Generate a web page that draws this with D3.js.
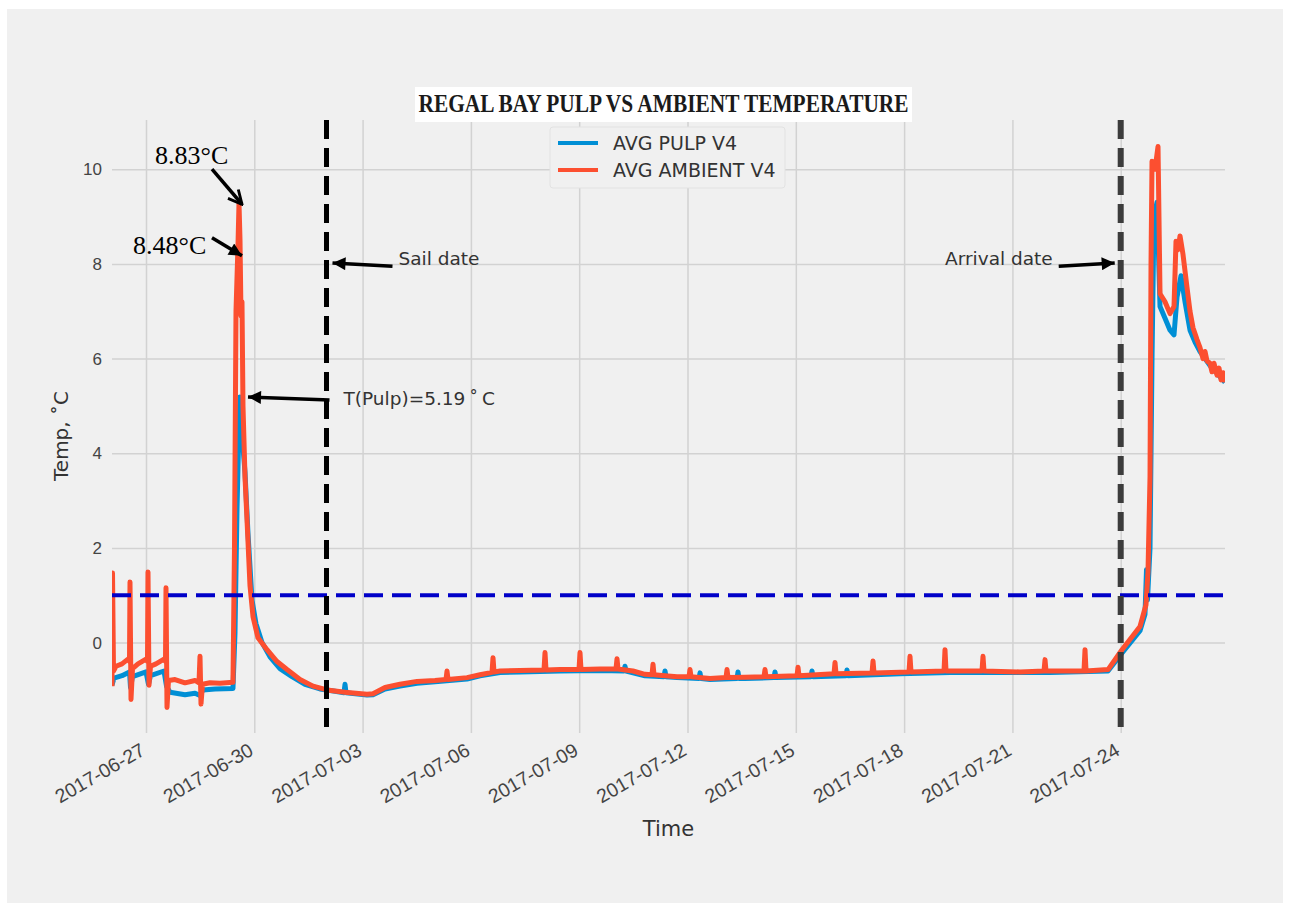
<!DOCTYPE html>
<html>
<head>
<meta charset="utf-8">
<script src="https://cdn.jsdelivr.net/npm/d3@7"></script>
<style>
  body { margin: 0; background: #fff; }
  svg { display: block; font-family: "DejaVu Sans", sans-serif; }
</style>
</head>
<body>
<div id="chart"></div>
<script>
// chart values
const title = "REGAL BAY PULP VS AMBIENT TEMPERATURE";
const seriesNames = ["AVG PULP V4", "AVG AMBIENT V4"];
const xTickLabels = ["2017-06-27", "2017-06-30", "2017-07-03", "2017-07-06", "2017-07-09",
  "2017-07-12", "2017-07-15", "2017-07-18", "2017-07-21", "2017-07-24"];
const yTicks = [0, 2, 4, 6, 8, 10];
const yLimits = [-1.91, 11.04];
const sailDate = "2017-07-02 00:00";
const arrivalDate = "2017-07-24 00:00";
const thresholdTemp = 1.0;

// AVG AMBIENT V4 (time, degC)
const ambient = [
  ["2017-06-26 01:24", -0.92], ["2017-06-26 01:44", 1.47], ["2017-06-26 02:24", -0.6],
  ["2017-06-26 04:04", -0.5], ["2017-06-26 08:03", -0.45], ["2017-06-26 12:02", -0.35],
  ["2017-06-26 13:02", -0.4], ["2017-06-26 13:22", 1.28], ["2017-06-26 14:02", -1.2],
  ["2017-06-26 15:02", -0.55], ["2017-06-26 18:41", -0.45], ["2017-06-27 00:00", -0.35],
  ["2017-06-27 01:00", -0.4], ["2017-06-27 01:20", 1.49], ["2017-06-27 02:00", -0.9],
  ["2017-06-27 03:00", -0.5], ["2017-06-27 06:39", -0.45], ["2017-06-27 11:58", -0.35],
  ["2017-06-27 12:58", -0.4], ["2017-06-27 13:18", 1.16], ["2017-06-27 13:58", -1.37],
  ["2017-06-27 14:58", -0.8], ["2017-06-27 19:17", -0.78], ["2017-06-28 01:56", -0.85],
  ["2017-06-28 08:35", -0.8], ["2017-06-28 11:14", -0.85], ["2017-06-28 11:54", -0.29],
  ["2017-06-28 12:34", -1.3], ["2017-06-28 13:34", -0.88], ["2017-06-28 18:33", -0.85],
  ["2017-06-29 01:12", -0.86], ["2017-06-29 09:50", -0.84], ["2017-06-29 10:50", 2.0],
  ["2017-06-29 11:50", 7.0], ["2017-06-29 13:10", 8.4], ["2017-06-29 13:50", 9.28],
  ["2017-06-29 14:30", 8.5], ["2017-06-29 15:10", 6.9], ["2017-06-29 15:49", 7.2],
  ["2017-06-29 16:29", 5.0], ["2017-06-29 17:49", 3.5], ["2017-06-29 19:09", 2.6],
  ["2017-06-29 21:09", 1.2], ["2017-06-29 23:08", 0.55], ["2017-06-30 02:28", 0.1],
  ["2017-06-30 08:27", -0.15], ["2017-06-30 15:06", -0.4], ["2017-06-30 21:45", -0.57],
  ["2017-07-01 06:23", -0.78], ["2017-07-01 15:02", -0.92], ["2017-07-02 00:20", -1.0],
  ["2017-07-02 12:18", -1.05], ["2017-07-03 02:56", -1.09], ["2017-07-03 06:55", -1.08],
  ["2017-07-03 14:54", -0.95], ["2017-07-04 00:52", -0.88], ["2017-07-04 12:10", -0.82],
  ["2017-07-05 00:08", -0.8], ["2017-07-05 07:27", -0.78], ["2017-07-05 08:07", -0.6],
  ["2017-07-05 08:47", -0.78], ["2017-07-05 21:25", -0.74], ["2017-07-06 06:03", -0.68],
  ["2017-07-06 14:02", -0.63], ["2017-07-06 14:42", -0.32], ["2017-07-06 15:22", -0.62],
  ["2017-07-06 19:21", -0.6], ["2017-07-07 08:39", -0.59], ["2017-07-08 00:36", -0.58],
  ["2017-07-08 01:16", -0.21], ["2017-07-08 01:56", -0.58], ["2017-07-08 11:14", -0.57],
  ["2017-07-08 23:52", -0.57], ["2017-07-09 00:32", -0.21], ["2017-07-09 01:12", -0.57],
  ["2017-07-09 13:50", -0.56], ["2017-07-10 00:28", -0.56], ["2017-07-10 01:08", -0.34],
  ["2017-07-10 01:48", -0.56], ["2017-07-10 11:46", -0.6], ["2017-07-10 19:45", -0.67],
  ["2017-07-11 00:24", -0.68], ["2017-07-11 01:04", -0.46], ["2017-07-11 01:44", -0.68],
  ["2017-07-11 09:03", -0.7], ["2017-07-11 17:01", -0.72], ["2017-07-12 01:00", -0.72],
  ["2017-07-12 01:40", -0.57], ["2017-07-12 02:20", -0.72], ["2017-07-12 14:58", -0.76],
  ["2017-07-13 01:36", -0.74], ["2017-07-13 02:16", -0.57], ["2017-07-13 02:56", -0.74],
  ["2017-07-13 14:14", -0.73], ["2017-07-14 02:52", -0.72], ["2017-07-14 03:31", -0.57],
  ["2017-07-14 04:11", -0.72], ["2017-07-15 00:48", -0.7], ["2017-07-15 01:28", -0.52],
  ["2017-07-15 02:08", -0.7], ["2017-07-16 01:24", -0.66], ["2017-07-16 02:04", -0.42],
  ["2017-07-16 02:44", -0.66], ["2017-07-17 02:40", -0.64], ["2017-07-17 03:20", -0.39],
  ["2017-07-17 04:00", -0.64], ["2017-07-18 03:15", -0.62], ["2017-07-18 03:55", -0.29],
  ["2017-07-18 04:35", -0.62], ["2017-07-19 02:32", -0.6], ["2017-07-19 03:11", -0.15],
  ["2017-07-19 03:51", -0.6], ["2017-07-20 03:47", -0.6], ["2017-07-20 04:27", -0.29],
  ["2017-07-20 05:07", -0.6], ["2017-07-21 05:03", -0.62], ["2017-07-21 21:01", -0.6],
  ["2017-07-21 21:41", -0.36], ["2017-07-21 22:20", -0.6], ["2017-07-22 23:36", -0.6],
  ["2017-07-23 00:16", -0.15], ["2017-07-23 00:56", -0.6], ["2017-07-23 15:34", -0.57],
  ["2017-07-24 00:52", -0.15], ["2017-07-24 12:50", 0.34], ["2017-07-24 16:49", 0.8],
  ["2017-07-24 18:09", 1.5], ["2017-07-24 19:29", 3.5], ["2017-07-24 20:09", 8.0],
  ["2017-07-24 20:49", 10.17], ["2017-07-24 22:48", 10.0], ["2017-07-25 00:48", 10.48],
  ["2017-07-25 02:08", 7.37], ["2017-07-25 05:27", 7.2], ["2017-07-25 08:47", 6.95],
  ["2017-07-25 11:26", 7.1], ["2017-07-25 12:46", 8.48], ["2017-07-25 14:06", 8.3],
  ["2017-07-25 15:26", 8.59], ["2017-07-25 17:25", 8.2], ["2017-07-25 20:05", 7.5],
  ["2017-07-25 22:04", 7.0], ["2017-07-26 00:04", 6.65], ["2017-07-26 02:44", 6.4],
  ["2017-07-26 04:43", 6.23], ["2017-07-26 06:43", 6.0], ["2017-07-26 08:03", 6.15],
  ["2017-07-26 09:23", 5.95], ["2017-07-26 11:22", 5.9], ["2017-07-26 12:42", 5.72],
  ["2017-07-26 14:02", 5.9], ["2017-07-26 16:01", 5.65], ["2017-07-26 17:21", 5.8],
  ["2017-07-26 18:41", 5.55], ["2017-07-26 20:01", 5.7], ["2017-07-26 21:20", 5.5]
];

// AVG PULP V4 (time, degC)
const pulp = [
  ["2017-06-26 01:24", -0.9], ["2017-06-26 02:44", -0.75], ["2017-06-26 08:03", -0.7],
  ["2017-06-26 13:02", -0.62], ["2017-06-26 13:42", -0.95], ["2017-06-26 15:02", -0.72],
  ["2017-06-27 00:00", -0.62], ["2017-06-27 01:40", -0.88], ["2017-06-27 03:00", -0.7],
  ["2017-06-27 11:58", -0.6], ["2017-06-27 13:38", -0.92], ["2017-06-27 15:58", -1.05],
  ["2017-06-28 01:56", -1.1], ["2017-06-28 08:35", -1.07], ["2017-06-28 11:54", -1.12],
  ["2017-06-28 13:54", -1.0], ["2017-06-28 21:53", -0.98], ["2017-06-29 09:50", -0.97],
  ["2017-06-29 11:10", 0.2], ["2017-06-29 12:30", 2.8], ["2017-06-29 13:50", 4.6],
  ["2017-06-29 14:30", 5.19], ["2017-06-29 15:49", 4.4], ["2017-06-29 17:49", 3.6],
  ["2017-06-29 19:49", 2.3], ["2017-06-29 22:28", 0.9], ["2017-06-30 01:08", 0.4],
  ["2017-06-30 05:07", 0.0], ["2017-06-30 10:26", -0.3], ["2017-06-30 17:05", -0.55],
  ["2017-07-01 01:04", -0.72], ["2017-07-01 09:42", -0.88], ["2017-07-01 19:41", -0.98],
  ["2017-07-02 05:39", -1.03], ["2017-07-02 11:38", -1.06], ["2017-07-02 12:18", -0.88],
  ["2017-07-02 12:58", -1.06], ["2017-07-03 02:56", -1.11], ["2017-07-03 06:55", -1.1],
  ["2017-07-03 14:54", -0.98], ["2017-07-04 00:52", -0.92], ["2017-07-04 12:10", -0.86],
  ["2017-07-05 00:08", -0.83], ["2017-07-05 21:25", -0.77], ["2017-07-06 06:03", -0.7],
  ["2017-07-06 19:21", -0.63], ["2017-07-07 08:39", -0.62], ["2017-07-08 11:14", -0.6],
  ["2017-07-09 13:50", -0.59], ["2017-07-10 05:47", -0.6], ["2017-07-10 06:27", -0.5],
  ["2017-07-10 07:07", -0.6], ["2017-07-10 19:45", -0.7], ["2017-07-11 08:23", -0.72],
  ["2017-07-11 09:03", -0.6], ["2017-07-11 09:42", -0.72], ["2017-07-11 17:01", -0.74],
  ["2017-07-12 07:39", -0.76], ["2017-07-12 08:19", -0.64], ["2017-07-12 08:59", -0.76],
  ["2017-07-12 14:58", -0.78], ["2017-07-13 08:55", -0.76], ["2017-07-13 09:34", -0.62],
  ["2017-07-13 10:14", -0.76], ["2017-07-13 14:14", -0.76], ["2017-07-14 09:30", -0.74],
  ["2017-07-14 10:10", -0.62], ["2017-07-14 10:50", -0.74], ["2017-07-15 10:06", -0.72],
  ["2017-07-15 10:46", -0.6], ["2017-07-15 11:26", -0.72], ["2017-07-16 09:22", -0.7],
  ["2017-07-16 10:02", -0.58], ["2017-07-16 10:42", -0.7], ["2017-07-17 21:17", -0.66],
  ["2017-07-19 06:31", -0.63], ["2017-07-20 15:45", -0.63], ["2017-07-22 01:00", -0.63],
  ["2017-07-23 15:34", -0.6], ["2017-07-24 00:52", -0.22], ["2017-07-24 12:50", 0.25],
  ["2017-07-24 16:09", 0.6], ["2017-07-24 17:09", 1.54], ["2017-07-24 17:49", 0.9],
  ["2017-07-24 19:29", 2.0], ["2017-07-24 20:49", 6.0], ["2017-07-24 22:08", 9.0],
  ["2017-07-25 00:08", 9.3], ["2017-07-25 02:08", 7.1], ["2017-07-25 05:27", 6.85],
  ["2017-07-25 08:47", 6.6], ["2017-07-25 11:26", 6.5], ["2017-07-25 13:26", 7.3],
  ["2017-07-25 16:05", 7.75], ["2017-07-25 18:45", 7.2], ["2017-07-25 22:04", 6.6],
  ["2017-07-26 01:24", 6.35], ["2017-07-26 04:43", 6.15], ["2017-07-26 11:22", 5.85],
  ["2017-07-26 21:20", 5.5]
];

const parseTime = d3.timeParse("%Y-%m-%d %H:%M");
const parseDay = d3.timeParse("%Y-%m-%d");

const W = 1290, H = 911;
const plot = { left: 112, right: 1225, top: 120, bottom: 733 };

const svg = d3.select("#chart").append("svg")
  .attr("width", W)
  .attr("height", H);

// page background
svg.append("rect").attr("width", W).attr("height", H).attr("fill", "#fff");
svg.append("rect").attr("x", 7).attr("y", 9).attr("width", 1276).attr("height", 894).attr("fill", "#f0f0f0");

const x = d3.scaleTime()
  .domain(d3.extent(ambient, d => parseTime(d[0])))
  .range([plot.left, plot.right]);

const y = d3.scaleLinear()
  .domain(yLimits)
  .range([plot.bottom, plot.top]);

// x grid + tick labels
const gx = svg.append("g")
  .attr("transform", `translate(0,${plot.bottom})`)
  .call(d3.axisBottom(x)
    .tickValues(xTickLabels.map(parseDay))
    .tickFormat(d3.timeFormat("%Y-%m-%d"))
    .tickSize(-(plot.bottom - plot.top)));
gx.select(".domain").remove();
gx.selectAll(".tick line").attr("stroke", "#d2d2d2").attr("stroke-width", 1.5);
gx.selectAll(".tick text")
  .attr("font-size", 19.5)
  .attr("fill", "#444")
  .attr("text-anchor", "end")
  .attr("x", -7)
  .attr("y", 9)
  .attr("dy", "0.71em")
  .attr("transform", "rotate(-30,-7,9)");

// y grid + tick labels
const gy = svg.append("g")
  .attr("transform", `translate(${plot.left},0)`)
  .call(d3.axisLeft(y)
    .tickValues(yTicks)
    .tickSize(-(plot.right - plot.left))
    .tickPadding(10));
gy.select(".domain").remove();
gy.selectAll(".tick line").attr("stroke", "#d2d2d2").attr("stroke-width", 1.5);
gy.selectAll(".tick text").attr("font-size", 17).attr("fill", "#444");

// axis titles
svg.append("text")
  .attr("transform", "translate(68,436) rotate(-90)")
  .attr("text-anchor", "middle")
  .attr("font-size", 20)
  .attr("fill", "#333")
  .text("Temp, \u02DAC");

svg.append("text")
  .attr("x", (plot.left + plot.right) / 2)
  .attr("y", 836)
  .attr("text-anchor", "middle")
  .attr("font-size", 21)
  .attr("fill", "#333")
  .text("Time");

// data lines
svg.append("clipPath").attr("id", "plotclip")
  .append("rect").attr("x", plot.left).attr("y", plot.top)
  .attr("width", plot.right - plot.left).attr("height", plot.bottom - plot.top);

const line = d3.line()
  .x(d => x(parseTime(d[0])))
  .y(d => y(d[1]));

const lines = svg.append("g").attr("clip-path", "url(#plotclip)");
lines.append("path")
  .datum(pulp)
  .attr("d", line)
  .attr("fill", "none")
  .attr("stroke", "#008fd5")
  .attr("stroke-width", 5)
  .attr("stroke-linejoin", "round");
lines.append("path")
  .datum(ambient)
  .attr("d", line)
  .attr("fill", "none")
  .attr("stroke", "#fc4f30")
  .attr("stroke-width", 5)
  .attr("stroke-linejoin", "round");

// threshold + sail / arrival markers
svg.append("line")
  .attr("x1", plot.left).attr("x2", plot.right)
  .attr("y1", y(thresholdTemp)).attr("y2", y(thresholdTemp))
  .attr("stroke", "#0000c8").attr("stroke-width", 4)
  .attr("stroke-dasharray", "19,9");

svg.append("line")
  .attr("x1", x(parseTime(sailDate))).attr("x2", x(parseTime(sailDate)))
  .attr("y1", plot.top).attr("y2", plot.bottom)
  .attr("stroke", "#000").attr("stroke-width", 5)
  .attr("stroke-dasharray", "19,9");

svg.append("line")
  .attr("x1", x(parseTime(arrivalDate))).attr("x2", x(parseTime(arrivalDate)))
  .attr("y1", plot.top).attr("y2", plot.bottom)
  .attr("stroke", "#3c3c3c").attr("stroke-width", 6)
  .attr("stroke-dasharray", "19,9");

// arrow heads
const defs = svg.append("defs");
defs.append("marker")
  .attr("id", "head")
  .attr("viewBox", "0 0 10 10")
  .attr("refX", 10).attr("refY", 5)
  .attr("markerUnits", "userSpaceOnUse")
  .attr("markerWidth", 16).attr("markerHeight", 13)
  .attr("orient", "auto")
  .append("path").attr("d", "M0,0L10,5L0,10z").attr("fill", "#000");
defs.append("marker")
  .attr("id", "open")
  .attr("viewBox", "0 0 10 10")
  .attr("refX", 9).attr("refY", 5)
  .attr("markerUnits", "userSpaceOnUse")
  .attr("markerWidth", 17).attr("markerHeight", 17)
  .attr("orient", "auto")
  .append("path").attr("d", "M1,1L9,5L1,9").attr("fill", "none").attr("stroke", "#000").attr("stroke-width", 1.7);

function arrow(x1, y1, x2, y2, head) {
  svg.append("line")
    .attr("x1", x1).attr("y1", y1).attr("x2", x2).attr("y2", y2)
    .attr("stroke", "#000").attr("stroke-width", 3.5)
    .attr("marker-end", `url(#${head})`);
}

const sx = x(parseTime(sailDate)), ax = x(parseTime(arrivalDate));
arrow(sx + 66, y(7.95), sx + 6, y(8.02), "head");
svg.append("text").attr("x", sx + 72).attr("y", y(8) + 1).attr("font-size", 18.5).attr("fill", "#333").text("Sail date");

arrow(ax - 62, y(7.95), ax - 6, y(8.02), "head");
svg.append("text").attr("x", ax - 68).attr("y", y(8) + 1).attr("font-size", 18.5).attr("fill", "#333")
  .attr("text-anchor", "end").text("Arrival date");

const pulpPeak = pulp.find(d => d[1] === d3.max(pulp.slice(0, 40), p => p[1]));
const px = x(parseTime(pulpPeak[0])), py = y(pulpPeak[1]);
arrow(sx + 3, py + 3, px + 8, py, "head");
svg.append("text").attr("x", sx + 17).attr("y", py + 8).attr("font-size", 18.5).attr("fill", "#333")
  .text("T(Pulp)=5.19\u2009\u02DA\u2009C");

// ambient peak call-outs
const ambPeakX = x(parseTime("2017-06-29 15:49"));
arrow(ambPeakX - 30, y(10.0), ambPeakX, y(9.26), "open");
svg.append("text").attr("x", ambPeakX - 87).attr("y", y(10.1)).attr("font-family", "Liberation Serif")
  .attr("font-size", 26).attr("fill", "#000").text("8.83\u00B0C");
arrow(ambPeakX - 30, y(8.55), ambPeakX, y(8.17), "head");
svg.append("text").attr("x", ambPeakX - 109).attr("y", y(8.2)).attr("font-family", "Liberation Serif")
  .attr("font-size", 26).attr("fill", "#000").text("8.48\u00B0C");

// title
svg.append("rect").attr("x", 415).attr("y", 87).attr("width", 497).attr("height", 35).attr("fill", "#fff");
svg.append("text")
  .attr("x", 663.5).attr("y", 112)
  .attr("text-anchor", "middle")
  .attr("font-family", "Liberation Serif")
  .attr("font-weight", "bold")
  .attr("font-size", 26)
  .attr("fill", "#1a1a1a")
  .attr("textLength", 490)
  .attr("lengthAdjust", "spacingAndGlyphs")
  .text(title);

// legend
const legend = svg.append("g").attr("transform", "translate(550,127)");
legend.append("rect").attr("width", 235).attr("height", 61).attr("rx", 3)
  .attr("fill", "#f0f0f0").attr("stroke", "#e2e2e2");
const colors = ["#008fd5", "#fc4f30"];
seriesNames.forEach((name, i) => {
  const ly = 16 + i * 27;
  legend.append("line").attr("x1", 8).attr("x2", 48).attr("y1", ly).attr("y2", ly)
    .attr("stroke", colors[i]).attr("stroke-width", 4);
  legend.append("text").attr("x", 63).attr("y", ly).attr("dy", "0.36em")
    .attr("font-size", 19).attr("fill", "#333").text(name);
});
</script>
</body>
</html>
